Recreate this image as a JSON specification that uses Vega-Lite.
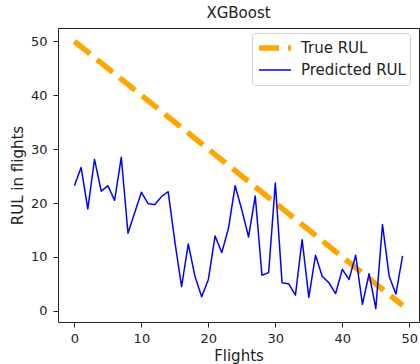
{
  "$schema": "https://vega.github.io/schema/vega-lite/v6.json",
  "width": 361,
  "height": 294,
  "autosize": {"type": "none"},
  "padding": {"left": 58, "top": 28, "right": 1, "bottom": 42},
  "background": "white",
  "config": {
    "font": "DejaVu Sans",
    "view": {"stroke": "#222", "strokeWidth": 1},
    "axis": {
      "grid": false,
      "domain": false,
      "minExtent": 0,
      "tickColor": "#222",
      "tickSize": 5,
      "labelColor": "#222",
      "labelFontSize": 13,
      "labelFont": "DejaVu Sans",
      "titleFont": "DejaVu Sans",
      "titleFontSize": 15,
      "titleFontWeight": "normal",
      "titleColor": "#222",
      "labelPadding": 5
    }
  },
  "title": {
    "text": "XGBoost",
    "font": "DejaVu Sans",
    "fontSize": 15,
    "fontWeight": "normal",
    "color": "#222",
    "offset": 7
  },
  "data": {
    "values": [
      {"flight": 0, "True RUL": 50, "Predicted RUL": 23.2},
      {"flight": 1, "True RUL": 49, "Predicted RUL": 26.6},
      {"flight": 2, "True RUL": 48, "Predicted RUL": 18.9},
      {"flight": 3, "True RUL": 47, "Predicted RUL": 28.1},
      {"flight": 4, "True RUL": 46, "Predicted RUL": 22.2},
      {"flight": 5, "True RUL": 45, "Predicted RUL": 23.2},
      {"flight": 6, "True RUL": 44, "Predicted RUL": 20.5},
      {"flight": 7, "True RUL": 43, "Predicted RUL": 28.5},
      {"flight": 8, "True RUL": 42, "Predicted RUL": 14.4},
      {"flight": 9, "True RUL": 41, "Predicted RUL": 18.2},
      {"flight": 10, "True RUL": 40, "Predicted RUL": 22.0},
      {"flight": 11, "True RUL": 39, "Predicted RUL": 19.9},
      {"flight": 12, "True RUL": 38, "Predicted RUL": 19.7},
      {"flight": 13, "True RUL": 37, "Predicted RUL": 21.2},
      {"flight": 14, "True RUL": 36, "Predicted RUL": 22.1},
      {"flight": 15, "True RUL": 35, "Predicted RUL": 12.8},
      {"flight": 16, "True RUL": 34, "Predicted RUL": 4.5},
      {"flight": 17, "True RUL": 33, "Predicted RUL": 12.4},
      {"flight": 18, "True RUL": 32, "Predicted RUL": 6.4},
      {"flight": 19, "True RUL": 31, "Predicted RUL": 2.6},
      {"flight": 20, "True RUL": 30, "Predicted RUL": 5.8},
      {"flight": 21, "True RUL": 29, "Predicted RUL": 13.9},
      {"flight": 22, "True RUL": 28, "Predicted RUL": 10.8},
      {"flight": 23, "True RUL": 27, "Predicted RUL": 15.3},
      {"flight": 24, "True RUL": 26, "Predicted RUL": 23.2},
      {"flight": 25, "True RUL": 25, "Predicted RUL": 18.7},
      {"flight": 26, "True RUL": 24, "Predicted RUL": 13.7},
      {"flight": 27, "True RUL": 23, "Predicted RUL": 21.3},
      {"flight": 28, "True RUL": 22, "Predicted RUL": 6.6},
      {"flight": 29, "True RUL": 21, "Predicted RUL": 7.1},
      {"flight": 30, "True RUL": 20, "Predicted RUL": 23.7},
      {"flight": 31, "True RUL": 19, "Predicted RUL": 5.2},
      {"flight": 32, "True RUL": 18, "Predicted RUL": 5.0},
      {"flight": 33, "True RUL": 17, "Predicted RUL": 2.9},
      {"flight": 34, "True RUL": 16, "Predicted RUL": 13.2},
      {"flight": 35, "True RUL": 15, "Predicted RUL": 2.5},
      {"flight": 36, "True RUL": 14, "Predicted RUL": 10.3},
      {"flight": 37, "True RUL": 13, "Predicted RUL": 6.4},
      {"flight": 38, "True RUL": 12, "Predicted RUL": 5.2},
      {"flight": 39, "True RUL": 11, "Predicted RUL": 3.2},
      {"flight": 40, "True RUL": 10, "Predicted RUL": 7.7},
      {"flight": 41, "True RUL": 9, "Predicted RUL": 5.8},
      {"flight": 42, "True RUL": 8, "Predicted RUL": 10.3},
      {"flight": 43, "True RUL": 7, "Predicted RUL": 1.2},
      {"flight": 44, "True RUL": 6, "Predicted RUL": 6.9},
      {"flight": 45, "True RUL": 5, "Predicted RUL": 0.4},
      {"flight": 46, "True RUL": 4, "Predicted RUL": 16.0},
      {"flight": 47, "True RUL": 3, "Predicted RUL": 6.4},
      {"flight": 48, "True RUL": 2, "Predicted RUL": 3.1},
      {"flight": 49, "True RUL": 1, "Predicted RUL": 10.2}
    ]
  },
  "transform": [
    {"fold": ["True RUL", "Predicted RUL"], "as": ["series", "rul"]}
  ],
  "mark": {"type": "line", "strokeCap": "butt", "strokeJoin": "round"},
  "encoding": {
    "x": {
      "field": "flight",
      "type": "quantitative",
      "title": "Flights",
      "scale": {"domain": [-2.45, 51.45], "nice": false, "zero": false},
      "axis": {"values": [0, 10, 20, 30, 40, 50], "labelPadding": 5, "titlePadding": 3}
    },
    "y": {
      "field": "rul",
      "type": "quantitative",
      "title": "RUL in flights",
      "scale": {"domain": [-2.08, 52.48], "nice": false, "zero": false},
      "axis": {"values": [0, 10, 20, 30, 40, 50], "labelPadding": 6, "titlePadding": 5}
    },
    "detail": {"field": "series"},
    "color": {
      "field": "series",
      "type": "nominal",
      "title": null,
      "scale": {"domain": ["True RUL", "Predicted RUL"], "range": ["#ffa500", "#0000ff"]},
      "legend": {
        "orient": "none",
        "legendX": 194,
        "legendY": 5,
        "symbolType": "stroke",
        "symbolSize": 1024,
        "clipHeight": 22,
        "labelFontSize": 15,
        "labelFont": "DejaVu Sans",
        "labelColor": "#222",
        "fillColor": "white",
        "strokeColor": "#d0d0d0",
        "cornerRadius": 3,
        "padding": 4,
        "rowPadding": 0,
        "labelOffset": 7
      }
    },
    "strokeDash": {
      "field": "series",
      "type": "nominal",
      "title": null,
      "scale": {"domain": ["True RUL", "Predicted RUL"], "range": [[20, 9], [1, 0]]},
      "legend": null
    },
    "strokeWidth": {
      "field": "series",
      "type": "nominal",
      "title": null,
      "scale": {"domain": ["True RUL", "Predicted RUL"], "range": [5.5, 1.5]},
      "legend": null
    }
  }
}
